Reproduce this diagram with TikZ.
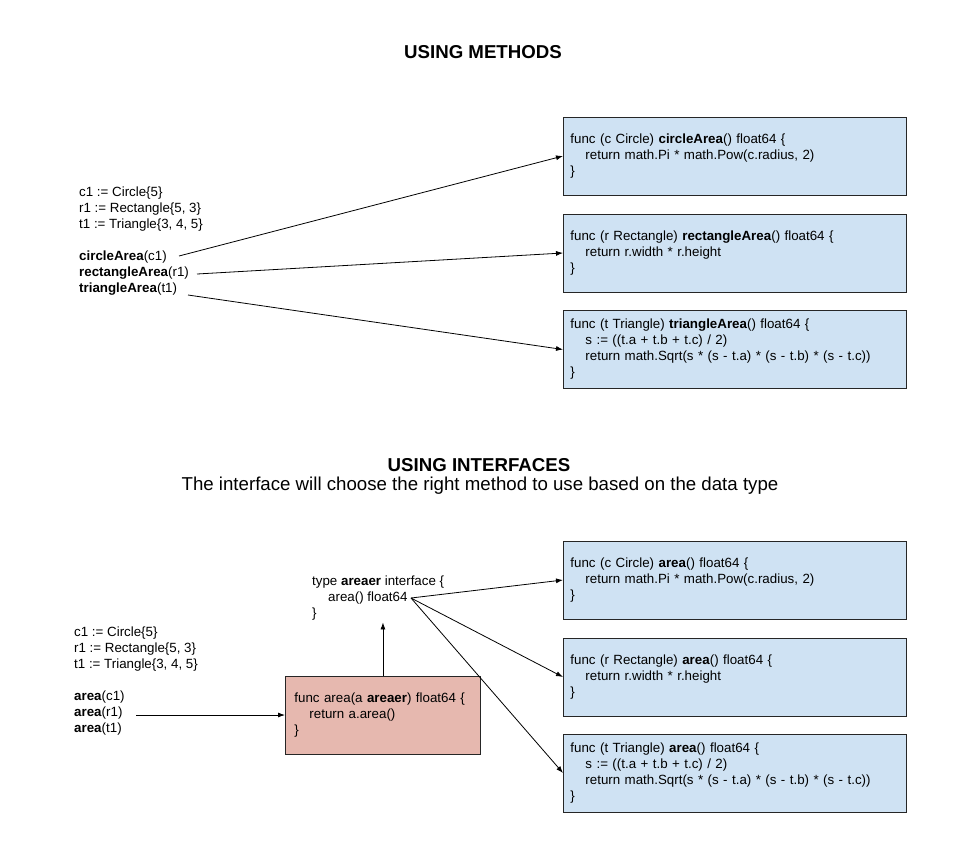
\documentclass[tikz,border=0pt]{standalone}
\usepackage{fontspec}
\setmainfont{Liberation Sans}
\usetikzlibrary{arrows.meta}
\definecolor{boxblue}{HTML}{CFE2F3}
\definecolor{boxred}{HTML}{E6B8AF}
\begin{document}
\begin{tikzpicture}[x=1pt,y=-1pt,
  txt/.style={inner sep=0pt, anchor=west, align=left, font=\fontsize{13.33}{16}\selectfont},
  codebox/.style={draw=black!85, line width=0.9pt, anchor=west, minimum height=78pt, inner ysep=4pt, align=left, font=\fontsize{13.33}{16}\selectfont},
  bluebox/.style={codebox, fill=boxblue, minimum width=343pt, text width=329pt, inner xsep=7pt},
  redbox/.style={codebox, fill=boxred, minimum width=195pt, text width=177pt, inner xsep=9pt},
  conn/.style={line width=0.8pt, -{Latex[length=7pt,width=5pt]}},
  titletxt/.style={font=\fontsize{18.67}{22}\selectfont\bfseries, inner sep=0pt},
  subtxt/.style={font=\fontsize{18.67}{22}\selectfont, inner sep=0pt}]
\fill[white] (0,0) rectangle (973,852);
\useasboundingbox (0,0) rectangle (973,852);

% ---------- USING METHODS ----------
\node[titletxt] (t1) at (483,52) {USING METHODS};

\node[txt] (declA) at (79,209) {c1 := Circle\{5\}\\r1 := Rectangle\{5, 3\}\\t1 := Triangle\{3, 4, 5\}};
\node[txt] (callA1) at (79,257) {\textbf{circleArea}(c1)};
\node[txt] (callA2) at (79,273) {\textbf{rectangleArea}(r1)};
\node[txt] (callA3) at (79,289) {\textbf{triangleArea}(t1)};

\node[bluebox] (m1) at (563,156) {func (c Circle) \textbf{circleArea}() float64 \{\\\hspace*{15pt}return math.Pi * math.Pow(c.radius, 2)\\\}};
\node[bluebox] (m2) at (563,253) {func (r Rectangle) \textbf{rectangleArea}() float64 \{\\\hspace*{15pt}return r.width * r.height\\\}};
\node[bluebox] (m3) at (563,349.5) {func (t Triangle) \textbf{triangleArea}() float64 \{\\\hspace*{15pt}s := ((t.a + t.b + t.c) / 2)\\\hspace*{15pt}return math.Sqrt(s * (s - t.a) * (s - t.b) * (s - t.c))\\\}};

\coordinate (sA1) at (179,256);
\coordinate (sA2) at (197,274);
\coordinate (sA3) at (188,295);
\draw[conn] (sA1) -- (m1.west);
\draw[conn] (sA2) -- (m2.west);
\draw[conn] (sA3) -- (m3.west);

% ---------- USING INTERFACES ----------
\node[titletxt] (t2) at (479,465) {USING INTERFACES};
\node[subtxt] (t3) at (480,486) {The interface will choose the right method to use based on the data type};

\node[txt] (declB) at (74,649) {c1 := Circle\{5\}\\r1 := Rectangle\{5, 3\}\\t1 := Triangle\{3, 4, 5\}};
\node[txt] (callB) at (74,713) {\textbf{area}(c1)\\\textbf{area}(r1)\\\textbf{area}(t1)};

\node[txt] (iface) at (312,598) {type \textbf{areaer} interface \{\\\hspace*{16pt}area() float64\\\}};

\node[redbox] (fa) at (285,715) {func area(a \textbf{areaer}) float64 \{\\\hspace*{15pt}return a.area()\\\}};

\node[bluebox] (b1) at (563,580) {func (c Circle) \textbf{area}() float64 \{\\\hspace*{15pt}return math.Pi * math.Pow(c.radius, 2)\\\}};
\node[bluebox] (b2) at (563,677) {func (r Rectangle) \textbf{area}() float64 \{\\\hspace*{15pt}return r.width * r.height\\\}};
\node[bluebox] (b3) at (563,773) {func (t Triangle) \textbf{area}() float64 \{\\\hspace*{15pt}s := ((t.a + t.b + t.c) / 2)\\\hspace*{15pt}return math.Sqrt(s * (s - t.a) * (s - t.b) * (s - t.c))\\\}};

\coordinate (sB) at (136,715);
\draw[conn] (sB) -- (fa.west);
\draw[conn] (fa.north) -- ([yshift=-2pt]fa.north |- iface.south);

\coordinate (sI) at (411,598);
\draw[conn] (sI) -- (b1.west);
\draw[conn] (sI) -- (b2.west);
\draw[conn] (sI) -- (b3.west);
\end{tikzpicture}
\end{document}
